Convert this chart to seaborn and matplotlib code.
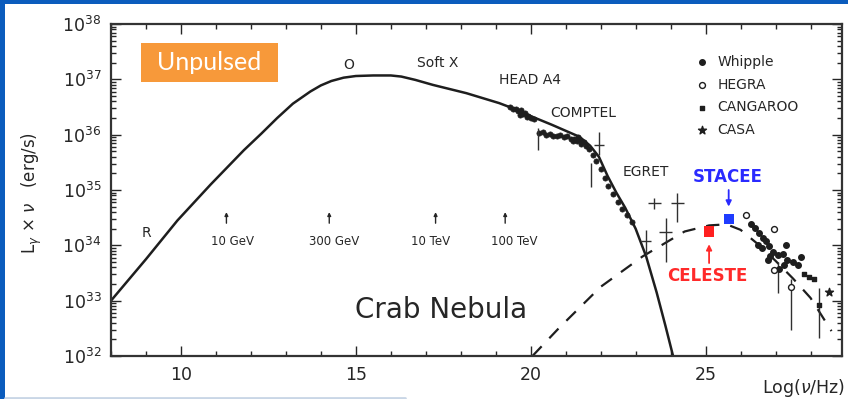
import numpy as np
import pandas as pd
import matplotlib
matplotlib.use("Agg")
import matplotlib.pyplot as plt
import seaborn as sns
from matplotlib.ticker import MultipleLocator, LogLocator, NullFormatter
from matplotlib.patches import Rectangle
from matplotlib.lines import Line2D

# ---- spectral energy distribution of the Crab Nebula (log10 nu, log10 L) ----
# synchrotron component (solid curve)
sync_lognu = [8.0, 9.0, 9.9, 10.85, 11.8, 12.3, 12.75, 13.2, 13.7, 14.0, 14.3, 14.65, 15.0,
              15.5, 16.0, 16.3, 16.7, 17.2, 18.16, 19.1, 19.6, 20.06, 20.6, 21.0, 21.4,
              21.7, 21.95, 22.2, 22.45, 22.7, 23.0, 23.3, 23.6, 23.85, 24.07]
sync_logL = [33.0, 33.75, 34.45, 35.1, 35.72, 36.02, 36.3, 36.56, 36.78, 36.89, 36.97, 37.03,
             37.06, 37.07, 37.07, 37.05, 36.99, 36.9, 36.75, 36.57, 36.45, 36.32, 36.18,
             36.07, 35.96, 35.8, 35.6, 35.25, 34.95, 34.68, 34.3, 33.8, 33.15, 32.55, 32.0]

# inverse Compton component (dashed curve)
ic_lognu = [20.05, 20.8, 22.0, 23.2, 24.4, 25.1, 25.6, 26.0, 26.5, 27.0, 27.5, 28.0, 28.6]
ic_logL = [32.0, 32.5, 33.25, 33.8, 34.25, 34.36, 34.38, 34.28, 34.02, 33.72, 33.4, 33.05, 32.45]

# X-ray / MeV / GeV measurements
xg_lognu = [19.40, 19.50, 19.58, 19.65, 19.72, 19.78, 19.85, 19.92, 20.00, 20.08, 19.70, 19.88,
            20.25, 20.35, 20.45, 20.55, 20.65, 20.75, 20.85, 20.95, 21.05, 21.15, 21.25, 21.32,
            21.40, 21.45, 21.52, 21.58, 21.35, 21.20,
            21.68, 21.78, 21.88, 22.0, 22.12, 22.22, 22.35, 22.5, 22.62, 22.76, 22.9]
xg_logL = [36.50, 36.47, 36.46, 36.42, 36.44, 36.38, 36.40, 36.34, 36.30, 36.28, 36.36, 36.32,
           36.03, 36.05, 36.00, 36.02, 35.98, 35.97, 36.00, 35.95, 35.97, 35.92, 35.93, 35.88,
           35.90, 35.84, 35.86, 35.80, 35.95, 35.88,
           35.74, 35.64, 35.52, 35.38, 35.22, 35.08, 34.92, 34.78, 34.66, 34.54, 34.42]

# measurements drawn with error bars
eb_lognu = [20.2, 21.72, 21.96, 23.53, 24.19, 23.29, 23.86, 27.06, 27.44, 28.25]
eb_logL = [36.02, 35.27, 35.82, 34.76, 34.76, 34.07, 34.25, 33.6, 33.25, 32.92]
eb_lo = [35.72, 35.05, 35.64, 34.66, 34.43, 33.83, 33.70, 33.13, 32.47, 32.32]
eb_hi = [36.12, 35.49, 36.05, 34.86, 34.95, 34.28, 34.49, 33.7, 33.4, 33.22]
eb_dx = [0.0, 0.0, 0.14, 0.19, 0.19, 0.15, 0.19, 0.0, 0.0, 0.0]

# TeV air-Cherenkov / air-shower measurements
whipple_lognu = [26.30, 26.41, 26.54, 26.63, 26.49, 26.73, 26.82, 26.92, 27.06, 27.20, 27.34,
                 27.49, 27.63, 26.77, 27.25, 27.11, 27.30, 27.72, 26.60, 26.85]
whipple_logL = [34.38, 34.31, 34.22, 34.13, 34.01, 34.07, 33.98, 33.88, 33.82, 33.85, 33.73,
                33.70, 33.64, 33.73, 33.64, 33.58, 34.01, 33.79, 33.95, 33.80]
hegra_lognu = [26.16, 26.96, 26.96, 27.44]
hegra_logL = [34.55, 34.29, 33.55, 33.25]
cangaroo_lognu = [27.82, 27.96, 28.10, 28.25]
cangaroo_logL = [33.49, 33.43, 33.40, 32.92]
casa_lognu = [28.53]
casa_logL = [33.16]

# solar-array telescopes
stacee_lognu, stacee_logL = 25.66, 34.47
celeste_lognu, celeste_logL = 25.10, 34.25

# band and energy annotations
band_labels = ["R", "O", "Soft X", "HEAD A4", "COMPTEL", "EGRET"]
band_lognu = [9.02, 14.79, 17.33, 19.98, 20.55, 22.64]
band_logL = [34.22, 37.26, 37.29, 36.99, 36.39, 35.33]
band_ha = ["center", "center", "center", "center", "left", "left"]
energy_labels = ["10 GeV", "300 GeV", "10 TeV", "100 TeV"]
energy_lognu = [11.30, 14.24, 17.28, 19.27]
energy_label_lognu = [10.87, 13.67, 16.57, 18.87]

ink = "#262626"

sns.set_style("ticks")
plt.rcParams["font.family"] = ["DejaVu Sans"]
plt.rcParams["mathtext.fontset"] = "dejavusans"

fig = plt.figure(figsize=(8.48, 3.99), dpi=100)
fig.patch.set_facecolor("#0b5cbd")
W, H = 848, 399
fig.patches.append(Rectangle((5 / W, 0), 1 - 5 / W, 1 - 4 / H, transform=fig.transFigure,
                             facecolor="white", edgecolor="none", zorder=-10))
fig.lines.append(Line2D([5 / W, 405 / W], [1.5 / H, 1.5 / H], transform=fig.transFigure,
                        color="#c9d6e6", lw=2, zorder=-9))

ax = fig.add_axes([111 / W, 1 - 356 / H, 731 / W, 332 / H])
ax.set_facecolor("white")

sync = pd.DataFrame({"lognu": sync_lognu, "L": np.power(10.0, sync_logL)})
ic = pd.DataFrame({"lognu": ic_lognu, "L": np.power(10.0, ic_logL)})
sns.lineplot(data=sync, x="lognu", y="L", sort=False, estimator=None, color="#1e1e1e",
             lw=1.8, ax=ax)
sns.lineplot(data=ic, x="lognu", y="L", sort=False, estimator=None, color="#1e1e1e",
             lw=1.6, ax=ax, dashes=False, linestyle=(0, (6, 5)))

xg = pd.DataFrame({"lognu": xg_lognu, "L": np.power(10.0, xg_logL)})
sns.scatterplot(data=xg, x="lognu", y="L", color="#1e1e1e", s=14, marker="o",
                edgecolor="#1e1e1e", linewidth=0.5, ax=ax)

eb_L = np.power(10.0, eb_logL)
yerr = np.vstack([eb_L - np.power(10.0, eb_lo), np.power(10.0, eb_hi) - eb_L])
ax.errorbar(eb_lognu, eb_L, yerr=yerr, xerr=eb_dx, fmt="none", ecolor="#303030",
            elinewidth=1.0, capsize=0)

tev_sets = [
    ("Whipple", whipple_lognu, whipple_logL, "o", "#1e1e1e", 16),
    ("HEGRA", hegra_lognu, hegra_logL, "o", "white", 18),
    ("CANGAROO", cangaroo_lognu, cangaroo_logL, "s", "#1e1e1e", 12),
    ("CASA", casa_lognu, casa_logL, "*", "#1e1e1e", 36),
]
for name, xs, ys, mk, fc, sz in tev_sets:
    d = pd.DataFrame({"lognu": xs, "L": np.power(10.0, ys)})
    sns.scatterplot(data=d, x="lognu", y="L", marker=mk, s=sz, color=fc,
                    edgecolor="#1e1e1e", linewidth=1.0, label=name, ax=ax, zorder=4)

sns.scatterplot(x=[stacee_lognu], y=[10 ** stacee_logL], marker="s", s=55, color="#1f3cff",
                edgecolor="none", ax=ax, zorder=5)
sns.scatterplot(x=[celeste_lognu], y=[10 ** celeste_logL], marker="s", s=55, color="#ff2020",
                edgecolor="none", ax=ax, zorder=5)

ax.set_yscale("log")
ax.set_xlim(8, 28.9)
ax.set_ylim(1e32, 1e38)
ax.xaxis.set_major_locator(MultipleLocator(5))
ax.xaxis.set_minor_locator(MultipleLocator(1))
ax.yaxis.set_major_locator(LogLocator(base=10, numticks=10))
ax.yaxis.set_minor_locator(LogLocator(base=10, subs=np.arange(2, 10), numticks=20))
ax.yaxis.set_minor_formatter(NullFormatter())
ax.tick_params(which="both", direction="in", top=True, right=True, colors=ink,
               labelsize=12.5, width=1.0)
ax.tick_params(which="major", length=7, pad=7)
ax.tick_params(which="minor", length=3.5)
for sp in ax.spines.values():
    sp.set_color("#333333")
    sp.set_linewidth(1.6)

ax.set_xlabel("")
ax.text(1.004, -0.096, r"Log($\nu$/Hz)", transform=ax.transAxes, fontsize=12.5, color=ink,
        ha="right", va="center")
ax.set_ylabel(r"L$_\gamma$ $\times$ $\nu$   (erg/s)", fontsize=12, color=ink)
ax.yaxis.set_label_coords(-0.092, 0.49)

for lab, x, y, ha in zip(band_labels, band_lognu, band_logL, band_ha):
    ax.text(x, 10 ** y, lab, fontsize=10, color=ink, ha=ha, va="center")

for lab, xa, xl in zip(energy_labels, energy_lognu, energy_label_lognu):
    ax.annotate("", xy=(xa, 10 ** 34.6), xytext=(xa, 10 ** 34.4),
                arrowprops=dict(arrowstyle="-|>", lw=1.0, color=ink, mutation_scale=5,
                                shrinkA=0, shrinkB=0))
    ax.text(xl, 10 ** 34.07, lab, fontsize=8.5, color=ink, ha="left", va="center")

ax.text(17.44, 10 ** 32.83, "Crab Nebula", fontsize=20, color=ink, ha="center", va="center")

ax.text(25.64, 10 ** 35.24, "STACEE", fontsize=12, fontweight="bold", color="#2a2aff",
        ha="center", va="center")
ax.annotate("", xy=(stacee_lognu, 10 ** 34.7), xytext=(stacee_lognu, 10 ** 35.0),
            arrowprops=dict(arrowstyle="-|>", lw=1.3, color="#2a2aff", mutation_scale=8,
                            shrinkA=0, shrinkB=0))
ax.text(25.06, 10 ** 33.45, "CELESTE", fontsize=12, fontweight="bold", color="#ff2a2a",
        ha="center", va="center")
ax.annotate("", xy=(celeste_lognu, 10 ** 34.02), xytext=(celeste_lognu, 10 ** 33.68),
            arrowprops=dict(arrowstyle="-|>", lw=1.3, color="#ff2a2a", mutation_scale=8,
                            shrinkA=0, shrinkB=0))

leg = ax.legend(loc="upper left", bbox_to_anchor=((695 - 111) / 731, (356 - 55) / 332),
                frameon=False, fontsize=10, handlelength=1.0, handletextpad=0.6,
                labelspacing=0.62, borderpad=0, borderaxespad=0)
for t in leg.get_texts():
    t.set_color(ink)

fig.patches.append(Rectangle((141 / W, 1 - 82 / H), 137 / W, 39 / H, transform=fig.transFigure,
                             facecolor="#f7993a", edgecolor="none", zorder=5))
fig.text(209.5 / W, 1 - 62.5 / H, "Unpulsed", fontsize=18, color="white", family="Lato",
         ha="center", va="center", zorder=6)

fig.savefig("out.png", dpi=100, facecolor=fig.get_facecolor())
